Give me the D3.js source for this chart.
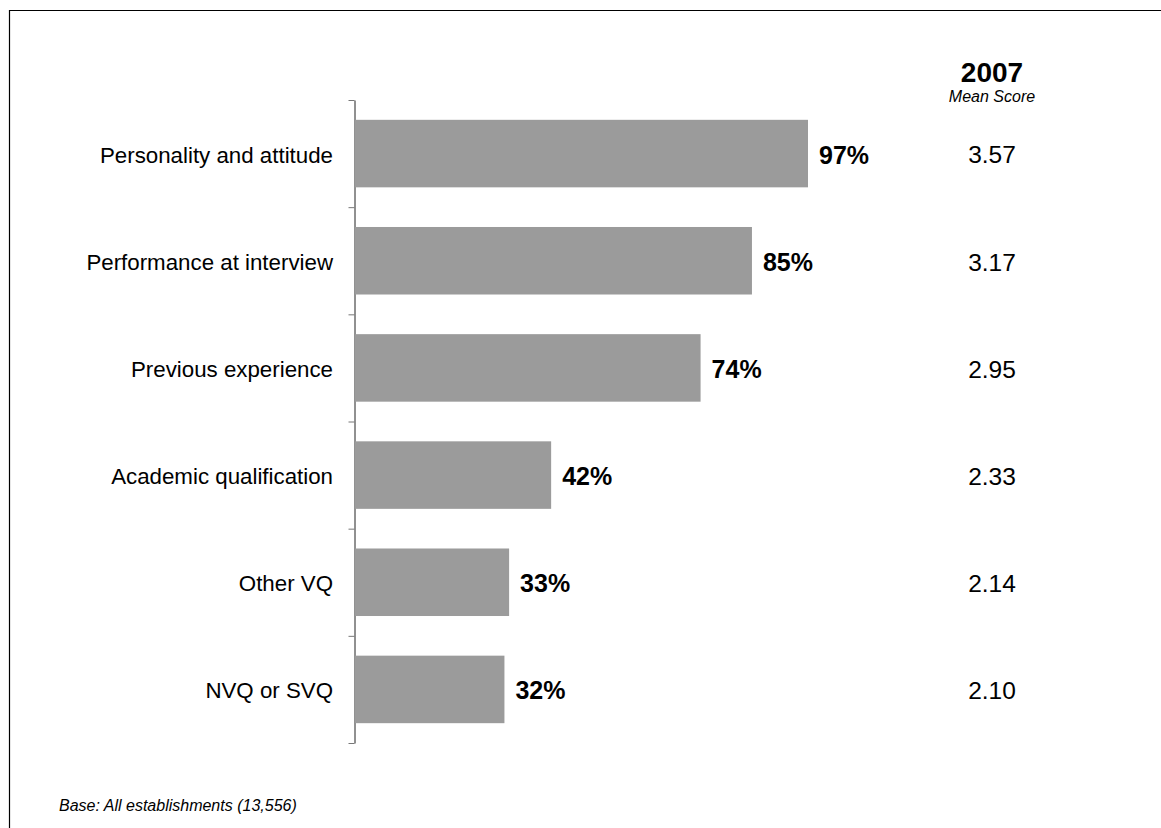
<!DOCTYPE html>
<html>
<head>
<meta charset="utf-8">
<script src="https://cdn.jsdelivr.net/npm/d3@7"></script>
<style>
  html, body { margin: 0; padding: 0; background: #fff; }
  svg { display: block; font-family: "Liberation Sans", Arial, Helvetica, sans-serif; }
</style>
</head>
<body>
<svg id="chart" width="1161" height="828"></svg>
<script>
// Factors considered when recruiting: share of establishments and mean score
const categories = [
  "Personality and attitude",
  "Performance at interview",
  "Previous experience",
  "Academic qualification",
  "Other VQ",
  "NVQ or SVQ"
];
const percentValues = [97, 85, 74, 42, 33, 32];
const meanScores = ["3.57", "3.17", "2.95", "2.33", "2.14", "2.10"];
const columnYear = "2007";
const columnSubtitle = "Mean Score";
const baseNote = "Base: All establishments (13,556)";

const svg = d3.select("#chart");

// Frame (top and left edges)
svg.append("path")
  .attr("d", "M9.5,828 V10.5 H1161")
  .attr("fill", "none")
  .attr("stroke", "#000")
  .attr("stroke-width", 1.2);

const axisX = 354;
const plotTop = 100, plotBottom = 743;

const y = d3.scaleBand()
  .domain(categories)
  .range([plotTop, plotBottom])
  .paddingInner(0.37)
  .paddingOuter(0.185);

const x = d3.scaleLinear().domain([0, 100]).range([axisX + 1, 822]);

// Category axis with ticks on band boundaries
const boundary = d3.scaleLinear().domain([0, categories.length]).range([plotTop, plotBottom]);
const axisG = svg.append("g")
  .attr("transform", `translate(${axisX + 0.5},0)`)
  .call(d3.axisLeft(boundary).ticks(categories.length).tickSize(6).tickSizeOuter(0).tickFormat(""));
axisG.select(".domain").attr("stroke", "#222");
axisG.selectAll(".tick line").attr("stroke", "#777").attr("stroke-width", 1);

// Bars
svg.append("g").selectAll("rect")
  .data(categories)
  .join("rect")
  .attr("x", x(0))
  .attr("y", d => y(d))
  .attr("width", (d, i) => x(percentValues[i]) - x(0))
  .attr("height", y.bandwidth())
  .attr("fill", "#9b9b9b");

// Category labels
svg.append("g").selectAll("text")
  .data(categories)
  .join("text")
  .attr("x", axisX - 21)
  .attr("y", d => y(d) + y.bandwidth() / 2)
  .attr("dy", "0.4em")
  .attr("text-anchor", "end")
  .attr("font-size", 22.3)
  .attr("fill", "#000")
  .text(d => d);

// Percentage labels
svg.append("g").selectAll("text")
  .data(categories)
  .join("text")
  .attr("x", (d, i) => x(percentValues[i]) + 11)
  .attr("y", d => y(d) + y.bandwidth() / 2)
  .attr("dy", "0.4em")
  .attr("font-size", 25)
  .attr("font-weight", "bold")
  .attr("fill", "#000")
  .text((d, i) => percentValues[i] + "%");

// Mean score column
const colX = 992;
svg.append("text")
  .attr("x", colX).attr("y", 82)
  .attr("text-anchor", "middle")
  .attr("font-size", 28)
  .attr("font-weight", "bold")
  .text(columnYear);
svg.append("text")
  .attr("x", colX).attr("y", 102)
  .attr("text-anchor", "middle")
  .attr("font-size", 16)
  .attr("font-style", "italic")
  .text(columnSubtitle);

svg.append("g").selectAll("text")
  .data(categories)
  .join("text")
  .attr("x", colX)
  .attr("y", d => y(d) + y.bandwidth() / 2)
  .attr("dy", "0.4em")
  .attr("text-anchor", "middle")
  .attr("font-size", 24.5)
  .attr("fill", "#000")
  .text((d, i) => meanScores[i]);

// Base note
svg.append("text")
  .attr("x", 59).attr("y", 811)
  .attr("font-size", 16)
  .attr("font-style", "italic")
  .text(baseNote);
</script>
</body>
</html>
